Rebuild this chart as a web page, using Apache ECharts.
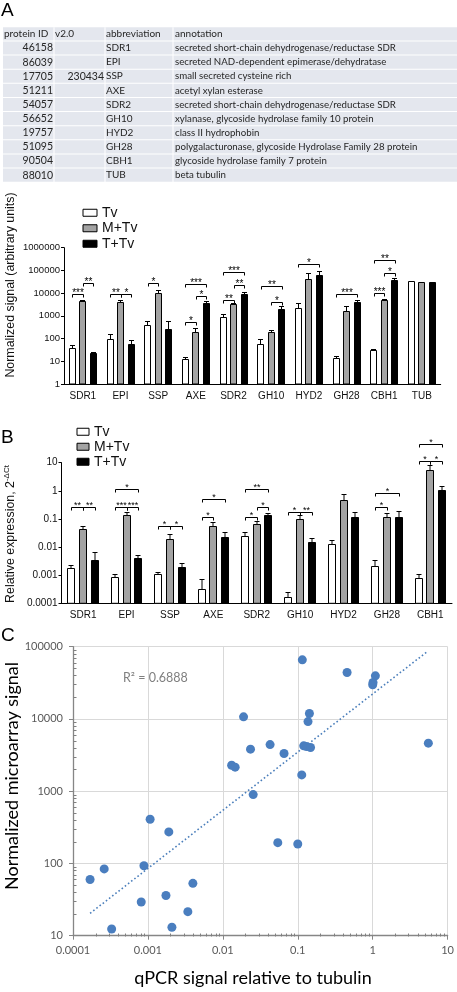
<!DOCTYPE html>
<html><head><meta charset="utf-8">
<script src="https://cdn.jsdelivr.net/npm/echarts@6/dist/echarts.min.js"></script>
<style>html,body{margin:0;padding:0;background:#fff}#c{width:457px;height:992px}</style>
</head><body><div id="c"></div>
<script>
// ---------- Table data ----------
const tableHeader = ['protein ID', 'v2.0', 'abbreviation', 'annotation'];
const proteinIds = ['46158','86039','17705','51211','54057','56652','19757','51095','90504','88010'];
const v2Ids = ['','','230434','','','','','','',''];
const abbreviations = ['SDR1','EPI','SSP','AXE','SDR2','GH10','HYD2','GH28','CBH1','TUB'];
const annotations = [
  'secreted short-chain dehydrogenase/reductase SDR',
  'secreted NAD-dependent epimerase/dehydratase',
  'small secreted cysteine rich',
  'acetyl xylan esterase',
  'secreted short-chain dehydrogenase/reductase SDR',
  'xylanase, glycoside hydrolase family 10 protein',
  'class II hydrophobin',
  'polygalacturonase, glycoside Hydrolase Family 28 protein',
  'glycoside hydrolase family 7 protein',
  'beta tubulin'
];

// ---------- Panel A: microarray ----------
const categoriesA = ['SDR1','EPI','SSP','AXE','SDR2','GH10','HYD2','GH28','CBH1','TUB'];
const microTv     = [38, 98, 408, 12.8, 891, 58, 2190, 13.6, 31.7, 33000];
const microTvErr  = [49.6, 158, 593, 16.2, 1170, 97, 3650, 17.8, 35.1, 35300];
const microMTv    = [4400, 4110, 10300, 193, 3350, 191, 41800, 1670, 4770, 29800];
const microMTvErr = [5210, 4860, 14400, 281, 3710, 242, 76900, 2780, 5290, 30600];
const microTTv    = [22.8, 55, 271, 3840, 9410, 2050, 64900, 4170, 37800, 29800];
const microTTvErr = [25, 83, 573, 4550, 10800, 2780, 97500, 4940, 46300, 30300];
// [category, fromBar, toBar, level, stars]
const sigA = [
  [0,0,1,9600,'***'], [0,1,2,28600,'**'],
  [1,0,1,9600,'**'], [1,1,2,9600,'*'],
  [2,0,1,28600,'*'],
  [3,0,1,516,'*'], [3,1,2,7300,'*'], [3,0,2,24000,'***'],
  [4,0,1,5210,'**'], [4,1,2,21700,'**'], [4,0,2,87500,'***'],
  [5,0,2,20200,'**'], [5,1,2,4120,'*'],
  [6,0,2,198000,'*'],
  [7,0,2,9310,'***'],
  [8,0,1,10300,'***'], [8,1,2,79000,'*'], [8,0,2,277000,'**']
];

// ---------- Panel B: qPCR ----------
const categoriesB = ['SDR1','EPI','SSP','AXE','SDR2','GH10','HYD2','GH28','CBH1'];
const qTv     = [0.00174, 0.000885, 0.00107, 0.000328, 0.0254, 0.000169, 0.0131, 0.00209, 0.000814];
const qTvErr  = [0.00228, 0.00107, 0.0013, 0.000745, 0.0333, 0.000255, 0.0182, 0.0034, 0.00113];
const qMTv    = [0.045, 0.14, 0.0189, 0.0541, 0.0656, 0.1, 0.455, 0.113, 5.53];
const qMTvErr = [0.058, 0.174, 0.0293, 0.0752, 0.0859, 0.135, 0.764, 0.157, 8.13];
const qTTv    = [0.00341, 0.00398, 0.0019, 0.0234, 0.137, 0.0146, 0.115, 0.12, 1.086];
const qTTvErr = [0.00655, 0.0051, 0.00272, 0.0335, 0.162, 0.0203, 0.183, 0.186, 1.51];
const sigB = [
  [0,0,1,0.26,'**'], [0,1,2,0.26,'**'],
  [1,0,1,0.26,'***'], [1,1,2,0.26,'***'], [1,0,2,1.16,'*'],
  [2,0,1,0.056,'*'], [2,1,2,0.056,'*'],
  [3,0,1,0.12,'*'], [3,0,2,0.51,'*'],
  [4,0,1,0.12,'*'], [4,1,2,0.26,'*'], [4,0,2,1.15,'**'],
  [5,0,1,0.18,'*'], [5,1,2,0.18,'**'],
  [7,0,1,0.26,'*'], [7,0,2,0.82,'*'],
  [8,0,1,11.5,'*'], [8,1,2,11.5,'*'], [8,0,2,46,'*']
];

// ---------- Panel C: correlation ----------
const qpcrX = [0.115, 0.455, 1.086, 1.01, 1.0, 0.0189, 0.143, 0.137, 0.0427, 0.0234, 0.0656, 0.120, 0.131, 0.148, 5.53,
  0.0131, 0.0146, 0.113, 0.0254, 0.00107, 0.0019, 0.0541, 0.1, 0.000885, 0.000261, 0.000169, 0.00398, 0.00174,
  0.000814, 0.00341, 0.000328, 0.00209];
const microY = [65800, 43900, 39500, 31900, 29700, 10700, 11900, 9200, 4420, 3820, 3320, 4240, 4160, 4020, 4620,
  2290, 2150, 1680, 897, 409, 273, 194, 186, 93, 84, 60, 53, 36, 29.3, 21.5, 12.4, 13.1];
const trendX = [0.000169, 5.36];
const trendY = [20.4, 85700];
const rSquared = '0.6888';
const minorMultipliers = [2, 3, 4, 5, 6, 7, 8, 9];
const xDecadesC = [0.0001, 0.001, 0.01, 0.1, 1];
const yDecadesC = [10, 100, 1000, 10000];

const seriesNames = ['Tv', 'M+Tv', 'T+Tv'];
const fills = ['#ffffff', '#a3a3a3', '#000000'];
const ARIAL = '"Liberation Sans", Arial, sans-serif';
const CAL = 'Lato, "Noto Sans", sans-serif';

function logLabel(v) { return String(Number(Number(v).toPrecision(6))); }

function barSeries(name, slot, vals, errs, axisIdx, barW, step, minVal) {
  return {
    type: 'custom', name: name, xAxisIndex: axisIdx, yAxisIndex: axisIdx, clip: false,
    itemStyle: { color: fills[slot], borderColor: '#000' },
    data: vals.map((v, i) => [i, v, errs[i]]),
    encode: { x: 0, y: 1 },
    renderItem: function (params, api) {
      const c = api.value(0), v = api.value(1), e = api.value(2);
      const top = api.coord([c, v]);
      const base = api.coord([c, minVal]);
      const et = api.coord([c, e]);
      const cx = top[0] + (slot - 1) * step;
      const x0 = Math.round(cx - barW / 2) + 0.5;
      const ty = Math.round(top[1]) + 0.5;
      const xm = x0 + (barW - 1) / 2;
      const ey = Math.round(et[1]) + 0.5;
      return { type: 'group', children: [
        { type: 'line', shape: { x1: xm, y1: ty, x2: xm, y2: ey }, style: { stroke: '#000', lineWidth: 1 } },
        { type: 'line', shape: { x1: xm - 2.5, y1: ey, x2: xm + 2.5, y2: ey }, style: { stroke: '#000', lineWidth: 1 } },
        { type: 'rect', shape: { x: x0, y: ty, width: barW - 1, height: base[1] - ty }, style: { fill: fills[slot], stroke: '#000', lineWidth: 1 } }
      ] };
    }
  };
}

function sigSeries(sig, axisIdx, step, fs) {
  return {
    type: 'custom', xAxisIndex: axisIdx, yAxisIndex: axisIdx, clip: false, silent: true,
    data: sig.map(s => [s[0], s[3]]),
    encode: { x: 0, y: 1 },
    renderItem: function (params, api) {
      const s = sig[params.dataIndex];
      const p = api.coord([s[0], s[3]]);
      const x1 = Math.round(p[0] + (s[1] - 1) * step) + 0.5;
      const x2 = Math.round(p[0] + (s[2] - 1) * step) + 0.5;
      const y = Math.round(p[1]) + 0.5;
      return { type: 'group', children: [
        { type: 'polyline', shape: { points: [[x1, y + 3], [x1, y], [x2, y], [x2, y + 3]] }, style: { stroke: '#000', fill: null, lineWidth: 1 } },
        { type: 'text', style: { text: s[4], x: (x1 + x2) / 2, y: y - 1.5, align: 'center', verticalAlign: 'middle', fontSize: fs, fontFamily: ARIAL, fill: '#000' } }
      ] };
    }
  };
}

function minorSeries(points, dir) {
  return {
    type: 'custom', xAxisIndex: 2, yAxisIndex: 2, silent: true, clip: false,
    data: points, encode: { x: 0, y: 1 },
    renderItem: function (params, api) {
      const p = api.coord([api.value(0), api.value(1)]);
      const x = Math.round(p[0]) + 0.5, y = Math.round(p[1]) + 0.5;
      const shape = dir === 'x' ? { x1: x, y1: y, x2: x, y2: y - 3 } : { x1: x, y1: y, x2: x + 3, y2: y };
      return { type: 'line', shape: shape, style: { stroke: '#808080', lineWidth: 1 } };
    }
  };
}

const minorXPts = [];
xDecadesC.forEach(d => minorMultipliers.forEach(m => minorXPts.push([d * m, yDecadesC[0]])));
const minorYPts = [];
yDecadesC.forEach(d => minorMultipliers.forEach(m => minorYPts.push([xDecadesC[0], d * m])));

// ---------- graphic: table, letters, titles ----------
const graphic = [];
const tblTop = 27.3, rowH = 14.13;
for (let r = 0; r < 11; r++) {
  graphic.push({ type: 'rect', shape: { x: 3, y: tblTop + r * rowH, width: 454, height: rowH - 1 }, style: { fill: '#e4e7ee' }, silent: true });
}
[53.5, 104.5, 172.5].forEach(x => graphic.push({ type: 'rect', shape: { x: x, y: tblTop, width: 1, height: 11 * rowH }, style: { fill: '#ffffff' }, silent: true }));
function tcell(txt, x, r, align, fs) {
  graphic.push({ type: 'text', x: x, y: tblTop + r * rowH + rowH / 2 - 0.5, silent: true,
    style: { text: txt, align: align, verticalAlign: 'middle', fontSize: fs, fontFamily: CAL, fill: '#262626' } });
}
tcell(tableHeader[0], 4, 0, 'left', 10);
tcell(tableHeader[1], 55, 0, 'left', 10);
tcell(tableHeader[2], 106, 0, 'left', 10);
tcell(tableHeader[3], 175, 0, 'left', 10);
for (let i = 0; i < proteinIds.length; i++) {
  tcell(proteinIds[i], 53, i + 1, 'right', 10.5);
  if (v2Ids[i]) tcell(v2Ids[i], 104, i + 1, 'right', 10.5);
  tcell(abbreviations[i], 106, i + 1, 'left', 10);
  tcell(annotations[i], 175, i + 1, 'left', 9.7);
}
function letter(t, y) {
  graphic.push({ type: 'text', x: 1, y: y, silent: true, style: { text: t, fontSize: 19, fontFamily: ARIAL, fill: '#000', verticalAlign: 'middle' } });
}
letter('A', 11); letter('B', 438); letter('C', 636);
graphic.push({ type: 'text', x: 11, y: 285, rotation: Math.PI / 2, silent: true,
  style: { text: 'Normalized signal (arbitrary units)', align: 'center', verticalAlign: 'middle', fontSize: 12.4, fontFamily: ARIAL, fill: '#111' } });
graphic.push({ type: 'text', x: 11, y: 534, rotation: Math.PI / 2, silent: true,
  style: { text: 'Relative expression, 2{s|-ΔCt}', align: 'center', verticalAlign: 'middle', fontSize: 12.4, lineHeight: 16, fontFamily: ARIAL, fill: '#111',
    rich: { s: { fontSize: 8, fontFamily: ARIAL, verticalAlign: 'top', lineHeight: 16, fill: '#111' } } } });
graphic.push({ type: 'text', x: 12, y: 776, rotation: Math.PI / 2, silent: true,
  style: { text: 'Normalized microarray signal', align: 'center', verticalAlign: 'middle', fontSize: 18, fontFamily: CAL, fill: '#000' } });
graphic.push({ type: 'text', x: 253, y: 978, silent: true,
  style: { text: 'qPCR signal relative to tubulin', align: 'center', verticalAlign: 'middle', fontSize: 18, fontFamily: CAL, fill: '#000' } });
graphic.push({ type: 'text', x: 123, y: 678, silent: true,
  style: { text: 'R² = ' + rSquared, align: 'left', verticalAlign: 'middle', fontSize: 12.5, fontFamily: CAL, fill: '#7f7f7f' } });

const legendItems = seriesNames.map((n, i) => ({ name: n, icon: 'rect', itemStyle: { color: fills[i], borderColor: '#000', borderWidth: 1 } }));

const catAxis = (data, gridIdx) => ({
  type: 'category', gridIndex: gridIdx, data: data,
  axisLine: { lineStyle: { color: '#000', width: 1 } },
  axisTick: { alignWithLabel: true, length: 3, lineStyle: { color: '#000' } },
  axisLabel: { fontSize: 10, fontFamily: ARIAL, color: '#111', margin: 7 },
  splitLine: { show: false }
});
const logAxisAB = (gridIdx, min, max, fs, margin) => ({
  type: 'log', logBase: 10, gridIndex: gridIdx, min: min, max: max,
  axisLine: { show: true, lineStyle: { color: '#000', width: 1 } },
  axisTick: { show: true, length: 3, lineStyle: { color: '#000' } },
  axisLabel: { fontSize: fs, fontFamily: ARIAL, color: '#111', margin: margin, formatter: logLabel },
  splitLine: { show: false }, minorTick: { show: false }
});

const option = {
  animation: false,
  backgroundColor: '#fff',
  grid: [
    { left: 64, top: 247.7, width: 376.7, height: 136.3 },
    { left: 61.5, top: 462.7, width: 390.5, height: 140.6 },
    { left: 73, top: 646.7, width: 375, height: 289 }
  ],
  legend: [
    { left: 82.5, top: 205.5, orient: 'vertical', itemWidth: 14, itemHeight: 7, itemGap: 1, padding: 0, selectedMode: false,
      textStyle: { fontSize: 14, fontFamily: ARIAL, color: '#111', lineHeight: 14.5 }, data: legendItems },
    { left: 76.5, top: 424.5, orient: 'vertical', itemWidth: 12, itemHeight: 7, itemGap: 0.5, padding: 0, selectedMode: false,
      textStyle: { fontSize: 14, fontFamily: ARIAL, color: '#111', lineHeight: 14.5 }, data: legendItems }
  ],
  xAxis: [
    catAxis(categoriesA, 0),
    catAxis(categoriesB, 1),
    { type: 'log', logBase: 10, gridIndex: 2, min: 0.0001, max: 10,
      axisLine: { lineStyle: { color: '#868686', width: 1.3 } },
      axisTick: { show: true, length: 4, lineStyle: { color: '#868686' } },
      axisLabel: { fontSize: 11, fontFamily: CAL, color: '#595959', margin: 9, formatter: logLabel },
      splitLine: { show: true, lineStyle: { color: '#d9d9d9', width: 1 } } }
  ],
  yAxis: [
    logAxisAB(0, 1, 1000000, 9.5, 4),
    logAxisAB(1, 0.0001, 10, 10, 4),
    { type: 'log', logBase: 10, gridIndex: 2, min: 10, max: 100000,
      axisLine: { show: true, lineStyle: { color: '#868686', width: 1.3 } },
      axisTick: { show: true, length: 4, lineStyle: { color: '#868686' } },
      axisLabel: { fontSize: 11, fontFamily: CAL, color: '#595959', margin: 10, formatter: logLabel },
      splitLine: { show: true, lineStyle: { color: '#d9d9d9', width: 1 } } }
  ],
  graphic: graphic,
  series: [
    barSeries('Tv', 0, microTv, microTvErr, 0, 7, 10.5, 1),
    barSeries('M+Tv', 1, microMTv, microMTvErr, 0, 7, 10.5, 1),
    barSeries('T+Tv', 2, microTTv, microTTvErr, 0, 7, 10.5, 1),
    sigSeries(sigA, 0, 10.5, 10),
    barSeries('Tv', 0, qTv, qTvErr, 1, 8, 11.7, 0.0001),
    barSeries('M+Tv', 1, qMTv, qMTvErr, 1, 8, 11.7, 0.0001),
    barSeries('T+Tv', 2, qTTv, qTTvErr, 1, 8, 11.7, 0.0001),
    sigSeries(sigB, 1, 11.7, 9),
    minorSeries(minorXPts, 'x'),
    minorSeries(minorYPts, 'y'),
    { type: 'line', xAxisIndex: 2, yAxisIndex: 2, data: trendX.map((x, i) => [x, trendY[i]]), showSymbol: false, symbol: 'none', silent: true,
      lineStyle: { color: '#4a7ebb', width: 1.6, type: [1.6, 2.4] }, z: 3 },
    { type: 'scatter', xAxisIndex: 2, yAxisIndex: 2, data: qpcrX.map((x, i) => [x, microY[i]]), symbolSize: 9,
      itemStyle: { color: '#4a7ebf', opacity: 1 }, z: 4 }
  ]
};
const chart = echarts.init(document.getElementById('c'), null, { renderer: 'canvas' });
chart.setOption(option);
</script></body></html>
